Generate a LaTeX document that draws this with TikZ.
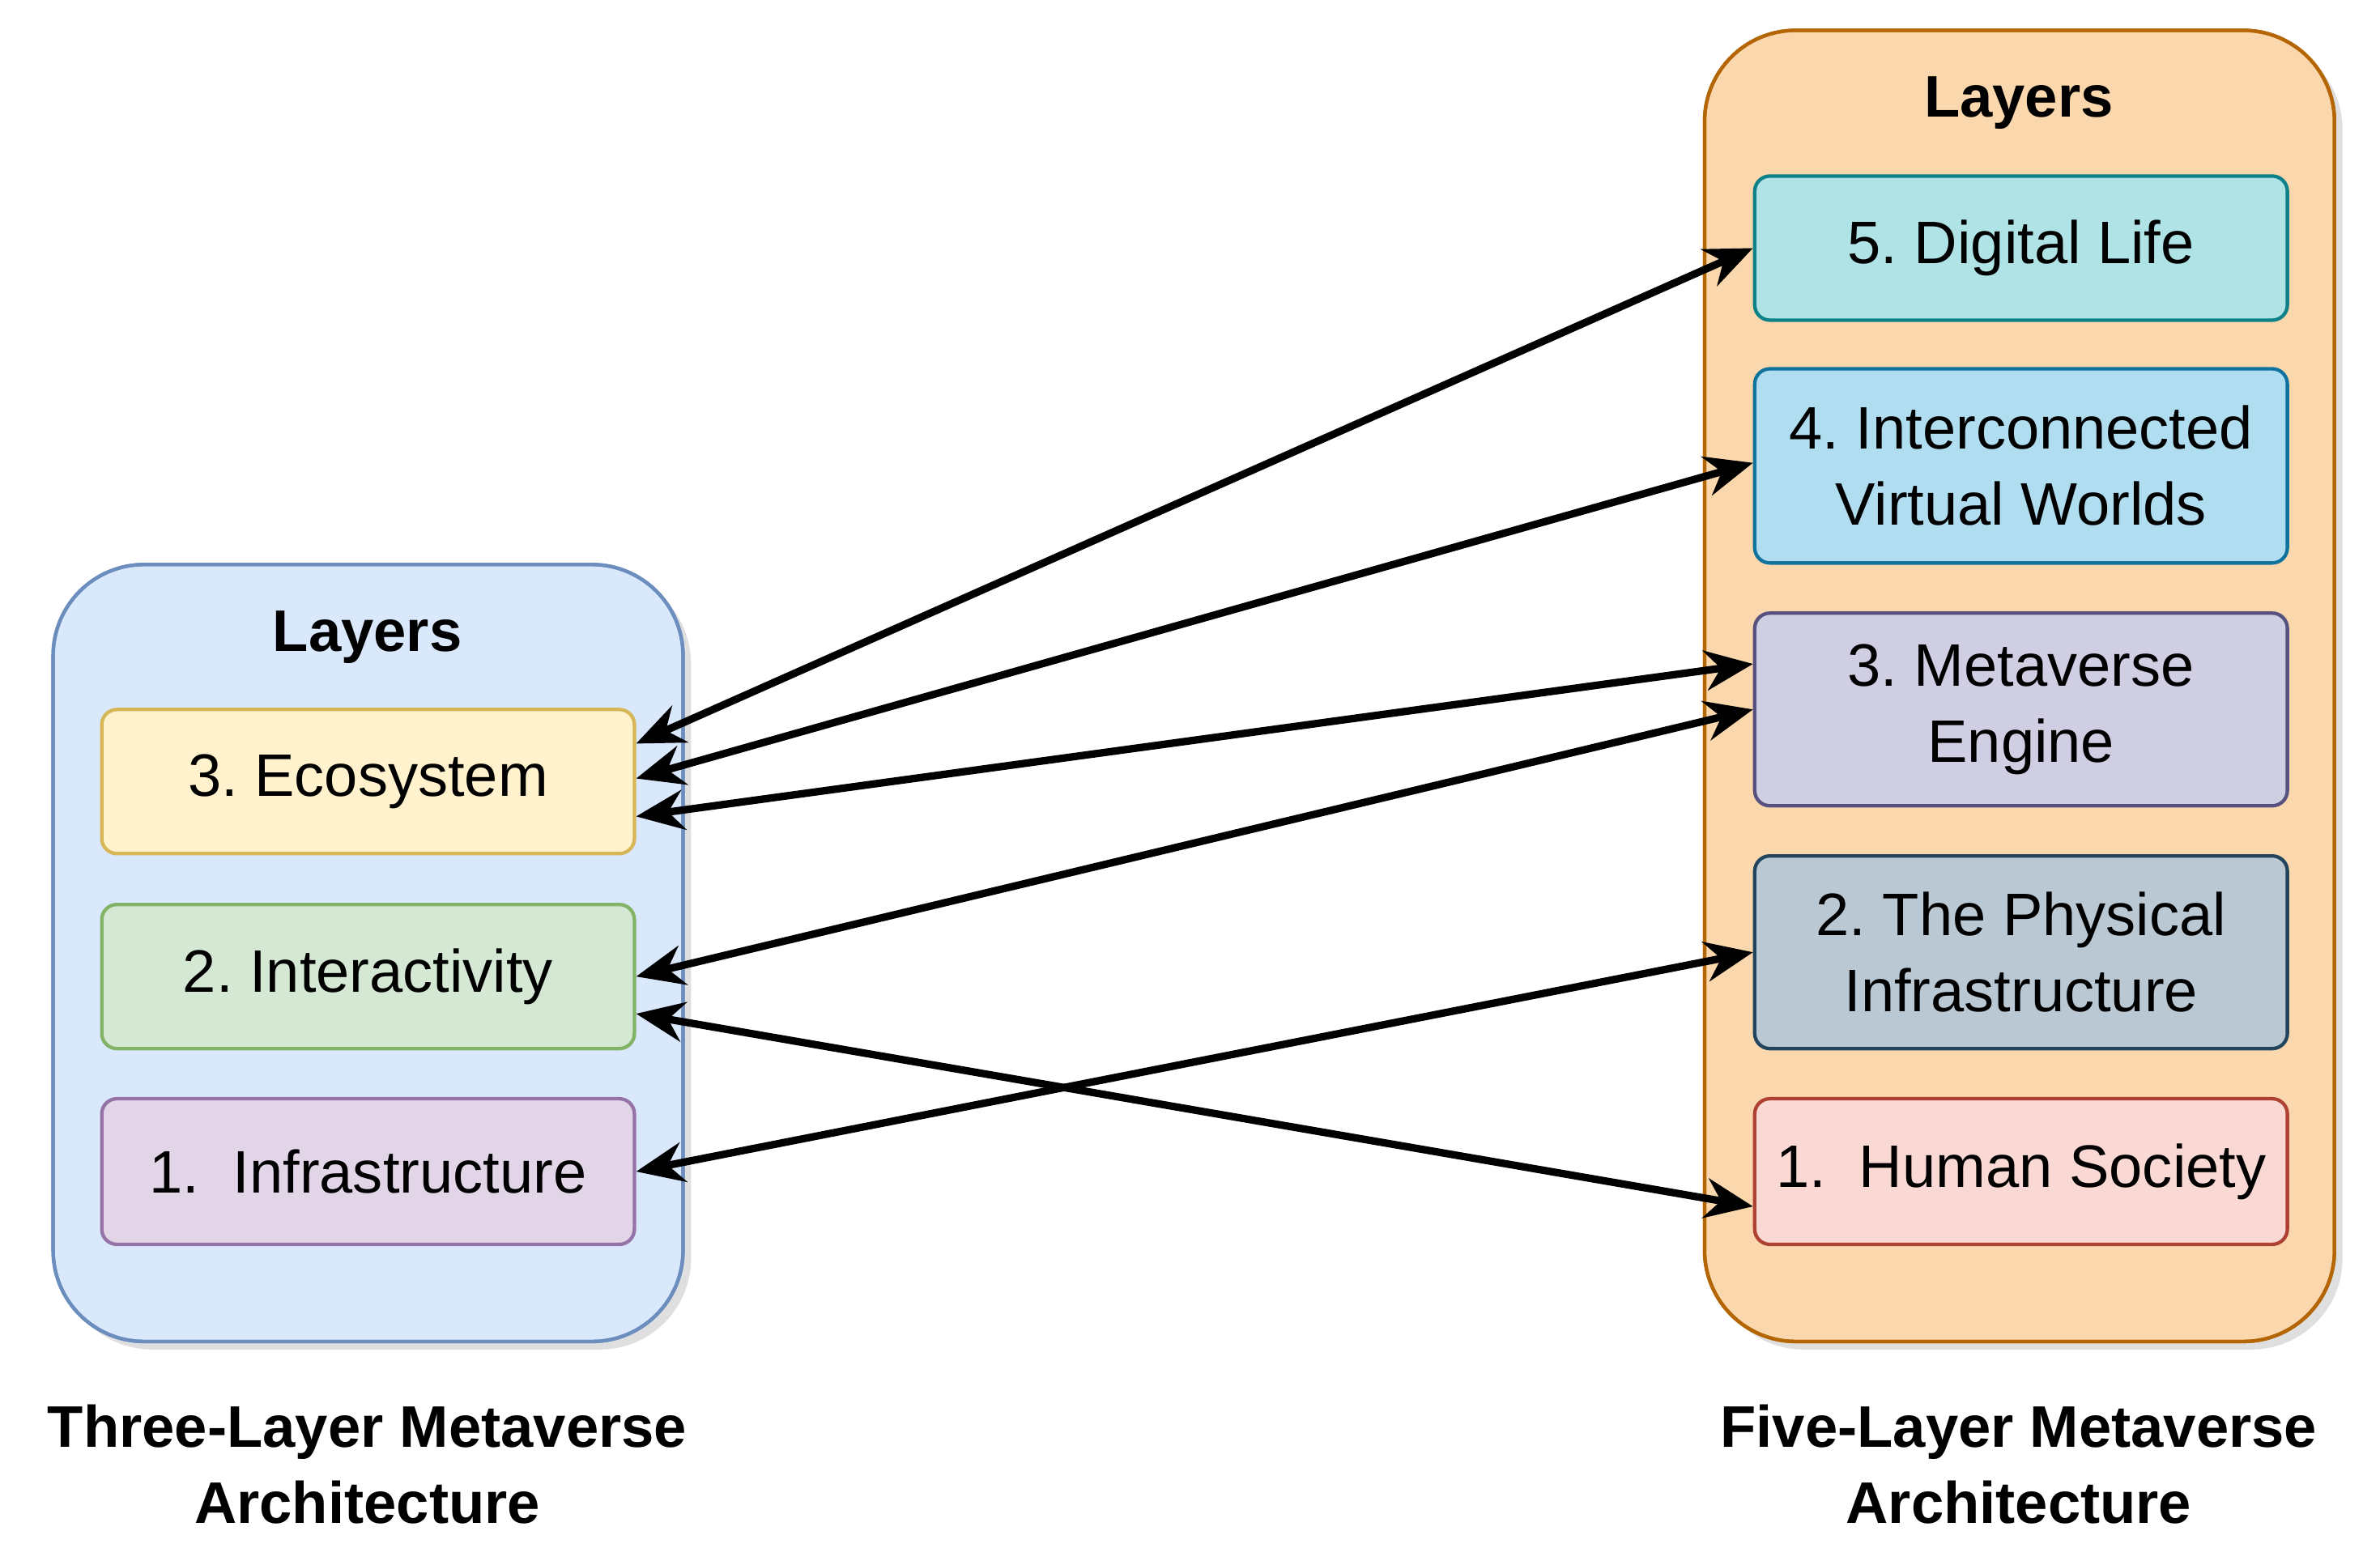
\documentclass[tikz,border=0pt]{standalone}
\usepackage{fontspec}
\setmainfont{Liberation Sans}
\usetikzlibrary{arrows.meta,shadows}
\definecolor{lbF}{HTML}{DAE8FC}\definecolor{lbS}{HTML}{6C8EBF}
\definecolor{orF}{HTML}{FAD7AC}\definecolor{orS}{HTML}{B46504}
\definecolor{yeF}{HTML}{FFF2CC}\definecolor{yeS}{HTML}{D6B656}
\definecolor{grF}{HTML}{D5E8D4}\definecolor{grS}{HTML}{82B366}
\definecolor{puF}{HTML}{E1D5E7}\definecolor{puS}{HTML}{9673A6}
\definecolor{tlF}{HTML}{B0E3E6}\definecolor{tlS}{HTML}{0E8088}
\definecolor{blF}{HTML}{B1DDF0}\definecolor{blS}{HTML}{10739E}
\definecolor{lvF}{HTML}{D0CEE2}\definecolor{lvS}{HTML}{56517E}
\definecolor{slF}{HTML}{BAC8D3}\definecolor{slS}{HTML}{23445D}
\definecolor{rdF}{HTML}{FAD9D5}\definecolor{rdS}{HTML}{AE4132}
\frenchspacing
\begin{document}
\begin{tikzpicture}[x=0.02cm,y=-0.02cm,
  cont/.style={draw=#1,line width=1.3pt,rounded corners=1.2cm,drop shadow={opacity=0.25,shadow xshift=3pt,shadow yshift=-3pt}},
  box/.style={draw=#1,line width=1.3pt,rounded corners=0.2cm,minimum width=7.02cm,align=center,font=\fontsize{22.5}{28.5}\selectfont},
  ttl/.style={font=\bfseries\fontsize{22}{28.5}\selectfont,align=center},
  arr/.style={line width=2.8pt,{Stealth[length=18pt,width=15pt]}-{Stealth[length=18pt,width=15pt]}}]
\useasboundingbox (0,0) rectangle (1568,1020);
\fill[cont=lbS,fill=lbF] (35,372) rectangle (450,884);
\draw[lbS,line width=1.3pt,rounded corners=1.2cm] (35,372) rectangle (450,884);
\fill[cont=orS,fill=orF] (1123,20) rectangle (1538,884);
\draw[orS,line width=1.3pt,rounded corners=1.2cm] (1123,20) rectangle (1538,884);
\node[ttl] (ll) at (242,420) {Layers};
\node[ttl] (rl) at (1330,68) {Layers};
\node[box=yeS,fill=yeF,minimum height=1.9cm] (eco) at (242.5,515) {3. Ecosystem};
\node[box=grS,fill=grF,minimum height=1.9cm] (int) at (242.5,643.5) {2. Interactivity};
\node[box=puS,fill=puF,minimum height=1.92cm] (inf) at (242.5,772) {1.\ \ Infrastructure};
\node[box=tlS,fill=tlF,minimum height=1.9cm] (dl) at (1331.5,163.5) {5. Digital Life};
\node[box=blS,fill=blF,minimum height=2.56cm] (ivw) at (1331.5,307) {4. Interconnected\\Virtual Worlds};
\node[box=lvS,fill=lvF,minimum height=2.54cm] (me) at (1331.5,467.5) {3. Metaverse\\Engine};
\node[box=slS,fill=slF,minimum height=2.54cm] (pi) at (1331.5,627.5) {2. The Physical\\Infrastructure};
\node[box=rdS,fill=rdF,minimum height=1.92cm] (hs) at (1331.5,772) {1.\ \ Human Society};
\node[ttl] (lt) at (242,965) {Three-Layer Metaverse\\Architecture};
\node[ttl] (rt) at (1330,965) {Five-Layer Metaverse\\Architecture};
\draw[arr] ([yshift=0.5cm]eco.east) -- (dl.west);
\draw[arr] ([yshift=0.04cm]eco.east) -- ([yshift=0.04cm]ivw.west);
\draw[arr] ([yshift=-0.46cm]eco.east) -- ([yshift=0.6cm]me.west);
\draw[arr] (int.east) -- (me.west);
\draw[arr] ([yshift=-0.49cm]int.east) -- ([yshift=-0.46cm]hs.west);
\draw[arr] (inf.east) -- (pi.west);
\end{tikzpicture}
\end{document}
